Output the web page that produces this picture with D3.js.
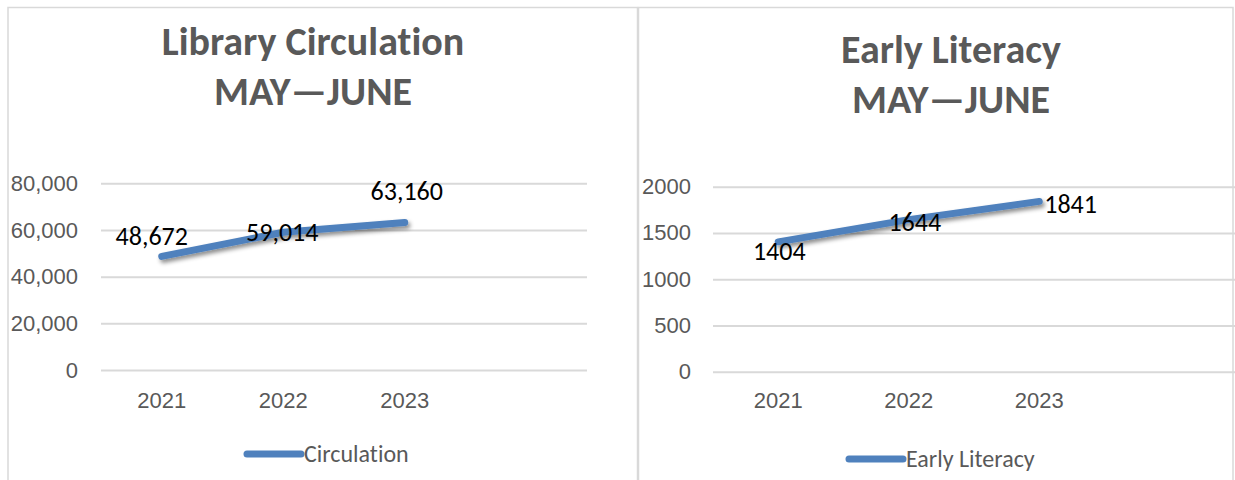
<!DOCTYPE html>
<html>
<head>
<meta charset="utf-8">
<script src="https://cdn.jsdelivr.net/npm/d3@7"></script>
<style>
  body { margin: 0; background: #fff; }
  svg { display: block; font-family: Carlito, "Open Sans", sans-serif; font-variant-ligatures: none; }
</style>
</head>
<body>
<svg id="chart" width="1235" height="480"></svg>
<script>
// data
const years = ['2021', '2022', '2023'];
const circulation = [48672, 59014, 63160];
const earlyLiteracy = [1404, 1644, 1841];
const circTicks = [0, 20000, 40000, 60000, 80000];
const litTicks = [0, 500, 1000, 1500, 2000];

const svg = d3.select('#chart');

// soft shadow under the lines
const defs = svg.append('defs');
const f = defs.append('filter').attr('id', 'shadow')
  .attr('x', '-20%').attr('y', '-50%').attr('width', '140%').attr('height', '200%');
f.append('feDropShadow').attr('dx', 2).attr('dy', 3).attr('stdDeviation', 2)
  .attr('flood-color', '#000').attr('flood-opacity', 0.45);

// panel borders
const border = '#d9d9d9';
svg.append('rect').attr('x', 8).attr('y', 7.5).attr('width', 629.5).attr('height', 480)
  .attr('fill', 'none').attr('stroke', border).attr('stroke-width', 1.5);
svg.append('rect').attr('x', 638.5).attr('y', 7.5).attr('width', 594.5).attr('height', 480)
  .attr('fill', 'none').attr('stroke', border).attr('stroke-width', 1.5);

function panel(cfg) {
  const g = svg.append('g');

  // title
  const t = g.append('text').attr('text-anchor', 'middle')
    .attr('font-weight', 'bold').attr('font-size', 40).attr('fill', '#595959');
  t.append('tspan').attr('x', cfg.titleX).attr('y', cfg.titleY).text(cfg.title);
  t.append('tspan').attr('x', cfg.titleX).attr('y', cfg.titleY + 50).text('MAY\u2014JUNE');

  const cats = cfg.cats.concat(cfg.blank);
  const x = d3.scaleBand().domain(cats).range([cfg.x0, cfg.x1]);
  const y = d3.scaleLinear().domain([0, cfg.ticks[cfg.ticks.length - 1]]).range([cfg.yBottom, cfg.yTop]);

  // gridlines + y labels
  const yAxis = g.append('g').attr('transform', `translate(${cfg.x0},0)`)
    .call(d3.axisLeft(y).tickValues(cfg.ticks).tickSize(-(cfg.x1 - cfg.x0)).tickPadding(cfg.yPad).tickFormat(cfg.fmt));
  yAxis.select('.domain').remove();
  yAxis.selectAll('.tick line').attr('stroke', '#d9d9d9').attr('stroke-width', 2);
  yAxis.selectAll('.tick text').attr('fill', '#595959').attr('font-size', 22).attr('font-family', null);

  // x labels
  const xAxis = g.append('g').attr('transform', `translate(0,${cfg.yBottom})`)
    .call(d3.axisBottom(x).tickValues(cfg.cats).tickSize(0).tickPadding(cfg.xPad));
  xAxis.select('.domain').remove();
  xAxis.selectAll('.tick text').attr('fill', '#595959').attr('font-size', 22).attr('font-family', null);

  const cx = d => x(d) + x.bandwidth() / 2;
  const line = d3.line().x((d, i) => cx(cfg.cats[i])).y(d => y(d));

  g.append('path').datum(cfg.values)
    .attr('d', line).attr('fill', 'none')
    .attr('stroke', '#4f81bd').attr('stroke-width', 7)
    .attr('stroke-linecap', 'round').attr('stroke-linejoin', 'round')
    .attr('filter', 'url(#shadow)');

  // data labels
  g.selectAll('.lbl').data(cfg.values).enter().append('text')
    .attr('x', (d, i) => cx(cfg.cats[i]) + cfg.labelDx[i])
    .attr('y', (d, i) => y(d) + cfg.labelDy[i])
    .attr('text-anchor', (d, i) => cfg.labelAnchor[i])
    .attr('font-size', 26).attr('fill', '#000')
    .text(d => cfg.fmt(d));

  // legend
  g.append('line').attr('x1', cfg.legendX).attr('x2', cfg.legendX + 54)
    .attr('y1', cfg.legendY).attr('y2', cfg.legendY)
    .attr('stroke', '#4f81bd').attr('stroke-width', 7).attr('stroke-linecap', 'round');
  g.append('text').attr('x', cfg.legendX + 57).attr('y', cfg.legendY + 8)
    .attr('font-size', 24).attr('fill', '#595959').text(cfg.legend);
}

panel({
  title: 'Library Circulation', titleX: 313, titleY: 55,
  cats: years, blank: [''], values: circulation, ticks: circTicks,
  fmt: d3.format(','),
  x0: 101, x1: 587, yTop: 183.3, yBottom: 370, yPad: 23, xPad: 22,
  labelDx: [-10, -1, 2], labelDy: [-11, 9, -23], labelAnchor: ['middle', 'middle', 'middle'],
  legend: 'Circulation', legendX: 247, legendY: 454
});

panel({
  title: 'Early Literacy', titleX: 951, titleY: 63,
  cats: years, blank: [''], values: earlyLiteracy, ticks: litTicks,
  fmt: d3.format('d'),
  x0: 713, x1: 1235, yTop: 186.7, yBottom: 371.7, yPad: 22, xPad: 21,
  labelDx: [1, 6, 5], labelDy: [18, 11, 12], labelAnchor: ['middle', 'middle', 'start'],
  legend: 'Early Literacy', legendX: 849, legendY: 459
});
</script>
</body>
</html>
